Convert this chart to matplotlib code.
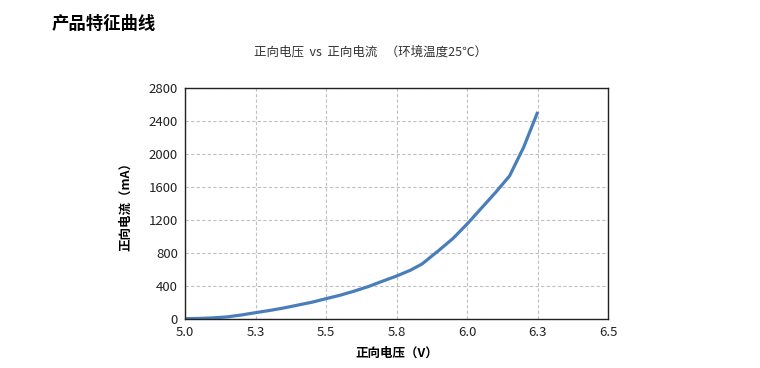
import matplotlib
matplotlib.use("Agg")
import matplotlib.pyplot as plt

plt.rcParams["font.family"] = ["Noto Sans CJK SC", "DejaVu Sans"]

# forward voltage (V) vs forward current (mA)
voltage = [5.00, 5.05, 5.10, 5.15, 5.20, 5.25, 5.30, 5.35, 5.40, 5.45,
           5.50, 5.55, 5.60, 5.65, 5.70, 5.75, 5.80, 5.84, 5.90, 5.95,
           6.00, 6.05, 6.10, 6.15, 6.20, 6.25]
current = [0, 3, 10, 22, 45, 73, 100, 130, 165, 200,
           243, 285, 335, 390, 455, 518, 590, 664, 830, 975,
           1150, 1340, 1530, 1732, 2080, 2510]

x_ticks = [5.0, 5.25, 5.5, 5.75, 6.0, 6.25, 6.5]
x_tick_labels = ["5.0", "5.3", "5.5", "5.8", "6.0", "6.3", "6.5"]
y_ticks = [0, 400, 800, 1200, 1600, 2000, 2400, 2800]

fig = plt.figure(figsize=(7.6, 3.68), dpi=100)
ax = fig.add_axes([0.2434, 0.134, 0.557, 0.627])

ax.plot(voltage, current, color="#4a7ebb", linewidth=2.3, solid_capstyle="butt")

ax.set_xlim(5.0, 6.5)
ax.set_ylim(0, 2800)
ax.set_xticks(x_ticks)
ax.set_xticklabels(x_tick_labels)
ax.set_yticks(y_ticks)
ax.tick_params(length=0, labelsize=9.5, pad=5, colors="#222222")
ax.grid(True, linestyle=(0, (3, 2)), color="#c0c0c0", linewidth=0.8)
for s in ax.spines.values():
    s.set_color("#222222")
    s.set_linewidth(1.0)

ax.set_xlabel("正向电压（V）", fontsize=9, fontweight="bold", labelpad=6)
ax.set_ylabel("正向电流（mA）", fontsize=9, fontweight="bold", labelpad=12)

fig.text(0.488, 0.858, "正向电压  vs  正向电流   （环境温度25℃）", ha="center", va="center",
         fontsize=9, color="#333333")
fig.text(0.068, 0.935, "产品特征曲线", ha="left", va="center",
         fontsize=12.5, fontweight="bold")

fig.savefig("out.png", dpi=100)
